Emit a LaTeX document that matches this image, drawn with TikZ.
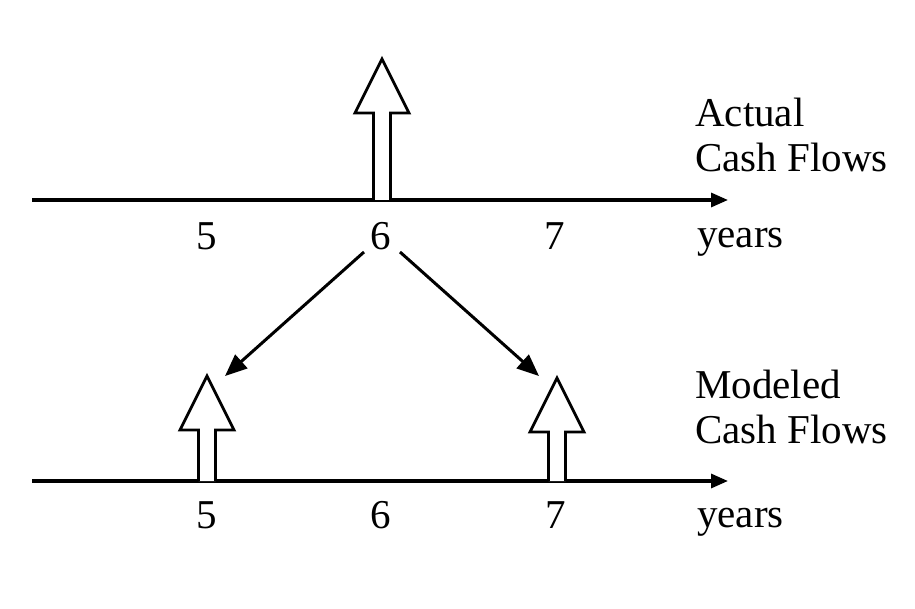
\documentclass[tikz,border=0pt]{standalone}
\usepackage{fontspec}
\setmainfont{Liberation Serif}
\usetikzlibrary{arrows.meta}
\tikzset{
  axis/.style={line width=3.2pt,-{Triangle[length=17pt,width=14pt]}},
  hollow/.style={line width=2.8pt,line join=miter,fill=white},
  link/.style={line width=3pt,-{Triangle[length=22pt,width=18pt]},shorten <=0pt},
  lbl/.style={font=\fontsize{41}{46}\selectfont,inner sep=0pt,anchor=base},
  side/.style={font=\fontsize{41}{46}\selectfont,inner sep=0pt,anchor=base west},
}
\newcommand{\hollowarrow}[4]{% x, base y, tip y, name
  \draw[hollow] (#1-8.5,#2) -- (#1-8.5,#3+54) -- (#1-27,#3+54) -- (#1,#3) coordinate (#4)
    -- (#1+27,#3+54) -- (#1+8.5,#3+54) -- (#1+8.5,#2);
}
\begin{document}
\begin{tikzpicture}[x=1pt,y=-1pt]
\useasboundingbox[fill=white] (0,0) rectangle (915,609);
% top axis
\coordinate (ta0) at (32,200);
\coordinate (ta1) at (728,200);
\draw[axis] (ta0) -- (ta1);
\hollowarrow{382}{200}{59}{tipTop}
\node[lbl] (t5) at (207,250) {5};
\node[lbl] (t6) at (381,250) {6};
\node[lbl] (t7) at (555,250) {7};
\node[side] (tyears) at (697,248) {years};
\node[side] (tact) at (695,127) {Actual};
\node[side] (tcash) at (695,172) {Cash Flows};
% bottom axis
\coordinate (ba0) at (32,481);
\coordinate (ba1) at (728,481);
\draw[axis] (ba0) -- (ba1);
\hollowarrow{207}{481}{376}{tipL}
\hollowarrow{557}{481}{378}{tipR}
\node[lbl] (b5) at (207,528) {5};
\node[lbl] (b6) at (381,528) {6};
\node[lbl] (b7) at (556,528) {7};
\node[side] (byears) at (697,527) {years};
\node[side] (bmod) at (695,398) {Modeled};
\node[side] (bcash) at (695,443) {Cash Flows};
% links
\coordinate (sL) at (364,252);
\coordinate (sR) at (400,252);
\coordinate (eL) at (225,376);
\coordinate (eR) at (539,376);
\draw[link] (sL) -- (eL);
\draw[link] (sR) -- (eR);
\end{tikzpicture}
\end{document}
